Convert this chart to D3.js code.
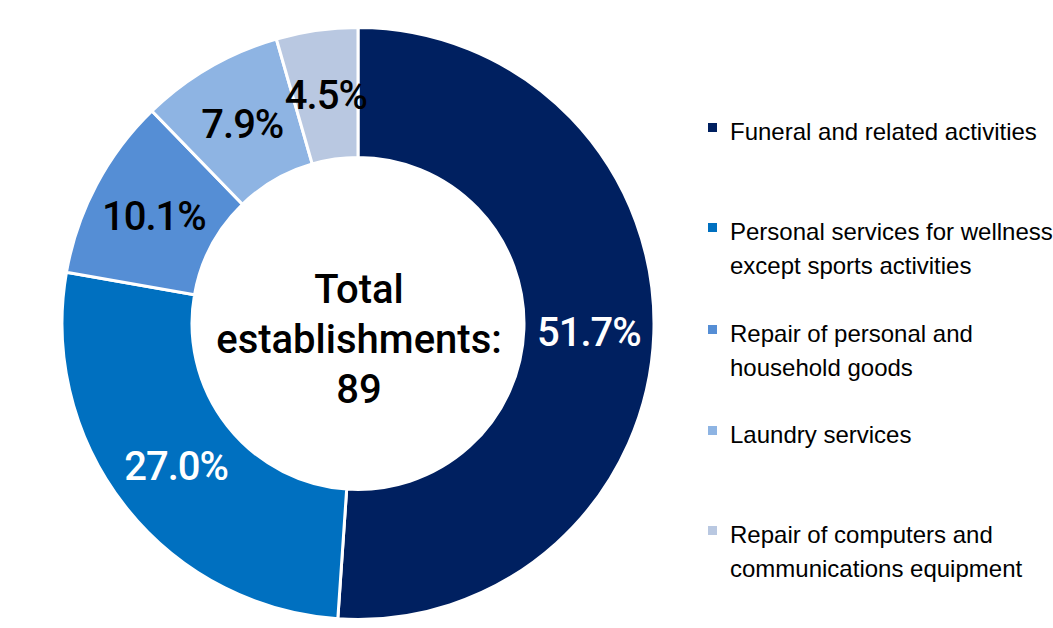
<!DOCTYPE html>
<html><head><meta charset="utf-8">
<script src="https://cdn.jsdelivr.net/npm/d3@7"></script>
<style>html,body{margin:0;padding:0;background:#fff;}svg{display:block;}</style>
</head><body>
<svg id="chart" width="1053" height="628"></svg>
<script>
const categories = ["Funeral and related activities","Personal services for wellness except sports activities","Repair of personal and household goods","Laundry services","Repair of computers and communications equipment"];
const legendLines = [["Funeral and related activities"],["Personal services for wellness","except sports activities"],["Repair of personal and","household goods"],["Laundry services"],["Repair of computers and","communications equipment"]];
const shares = [51.7, 27.0, 10.1, 7.9, 4.5];
const labels = ["51.7%","27.0%","10.1%","7.9%","4.5%"];
const colors = ["#002060","#0070C0","#558ED5","#8EB4E3","#B9C8E1"];
const labelColors = ["#fff","#fff","#000","#000","#000"];
const centerLines = ["Total","establishments:","89"];
const legendBaselines = [140, 240, 342, 443, 543];

const svg = d3.select("#chart");
const cx = 358, cy = 323.5, R = 296, r = 166;
const pie = d3.pie().sort(null).value(d => d)(shares);
const arc = d3.arc().innerRadius(r).outerRadius(R);
const g = svg.append("g").attr("transform", `translate(${cx},${cy})`);
g.selectAll("path").data(pie).join("path")
  .attr("d", arc).attr("fill", (d,i) => colors[i])
  .attr("stroke", "#fff").attr("stroke-width", 3);
const labFont = "Roboto, 'DejaVu Sans', sans-serif";
g.selectAll("text.lab").data(pie).join("text").attr("class","lab")
  .attr("transform", d => `translate(${arc.centroid(d)})`)
  .attr("text-anchor","middle").attr("dy","0.36em")
  .attr("font-family", labFont).attr("font-weight",500).attr("font-size",40)
  .attr("letter-spacing", -1)
  .attr("fill", (d,i) => labelColors[i]).text((d,i) => labels[i]);
g.selectAll("text.ctr").data(centerLines).join("text").attr("class","ctr")
  .attr("x", 1).attr("y", (d,i) => -21 + i*50)
  .attr("text-anchor","middle")
  .attr("font-family", labFont).attr("font-weight",500).attr("font-size",40)
  .attr("fill","#000").text(d => d);

const leg = svg.append("g");
legendLines.forEach((lines, i) => {
  const by = legendBaselines[i];
  leg.append("rect").attr("x",708).attr("y", by-17).attr("width",9).attr("height",9).attr("fill",colors[i]);
  const t = leg.append("text").attr("x",730).attr("y",by)
    .attr("font-family","'Liberation Sans', Arial, sans-serif").attr("font-size",24).attr("fill","#000");
  lines.forEach((ln, j) => t.append("tspan").attr("x",730).attr("dy", j===0?0:34).text(ln));
});
</script>
</body></html>
